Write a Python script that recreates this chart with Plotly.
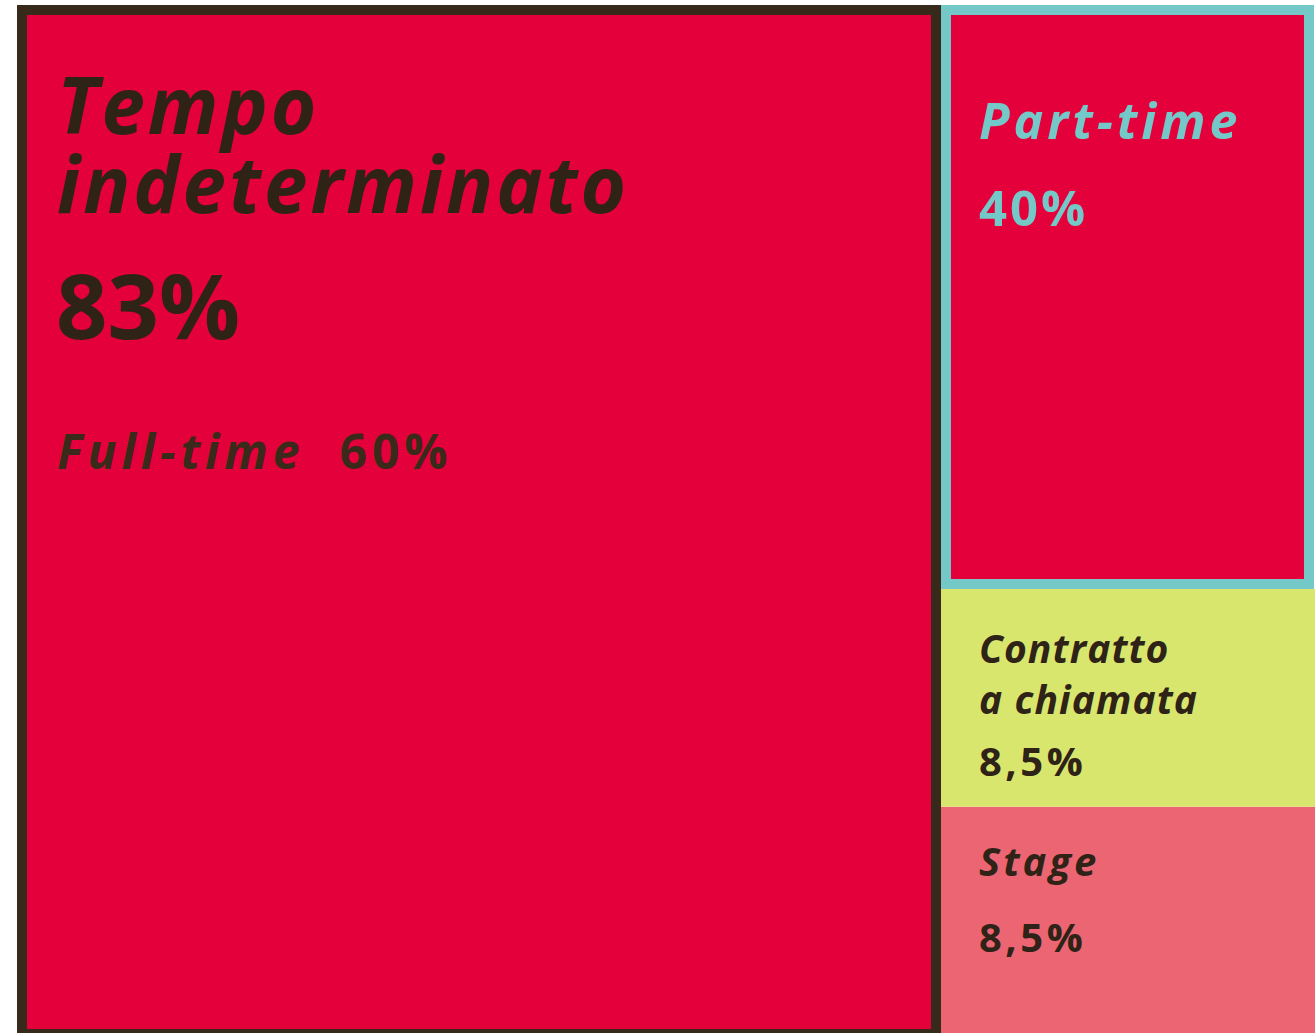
"""
Contratti di lavoro: tipologie e quote, disegnate come blocchi colorati.
"""

import plotly.graph_objects as go

# -- Data --
contracts = ["Tempo indeterminato", "Contratto a chiamata", "Stage"]
contract_share = ["83%", "8,5%", "8,5%"]
open_ended_split = ["Full-time", "Part-time"]
open_ended_share = ["60%", "40%"]

# right column, bottom to top: block heights as drawn (% of the column)
right_blocks = ["Stage", "Contratto a chiamata", "Part-time"]
right_heights = [22.0, 21.2, 56.8]
left_height = [100]

# -- Design --
COLORS = {
    "red": "#E4003A",
    "dark": "#2E2316",
    "border": "#382A1A",
    "teal": "#74C8C8",
    "lime": "#D8E66D",
    "pink": "#EC6573",
    "soft_dark": "#3A2A1A",
}
FONT = "Open Sans, Arial, sans-serif"

W, H = 1315, 1033
MARGIN = {"l": 17, "r": 0, "t": 5, "b": 0}
PLOT_W = W - MARGIN["l"] - MARGIN["r"]
PLOT_H = H - MARGIN["t"] - MARGIN["b"]
PX_X = 100 / PLOT_W  # axis units per pixel
PX_Y = 100 / PLOT_H
SPLIT = 924 * PX_X  # left column width
BORDER = 10  # px, border width drawn inside the block


def spaced(text, px):
    return f"<span style='letter-spacing:{px}px'>{text}</span>"


fig = go.Figure()

# Full-time block (dark frame)
fig.add_trace(
    go.Bar(
        x=[SPLIT / 2],
        y=[left_height[0] - BORDER / 2 * PX_Y + 1 * PX_Y],
        base=[-1 * PX_Y],
        width=[SPLIT - BORDER * PX_X],
        marker={"color": COLORS["red"], "line": {"color": COLORS["border"], "width": BORDER}},
        name=open_ended_split[0],
        hovertemplate=f"{contracts[0]} – {open_ended_split[0]}: {open_ended_share[0]}<extra></extra>",
    )
)

# right column
bases = [0]
for h in right_heights[:-1]:
    bases.append(bases[-1] + h)
right_x = SPLIT + (100 - SPLIT) / 2
right_w = 100 - SPLIT
right_colors = [COLORS["pink"], COLORS["lime"], COLORS["red"]]
right_share = [contract_share[2], contract_share[1], open_ended_share[1]]

for i, name in enumerate(right_blocks):
    framed = name == "Part-time"
    inset_x = BORDER / 2 * PX_X if framed else 0
    inset_y = BORDER / 2 * PX_Y if framed else 0
    fig.add_trace(
        go.Bar(
            x=[right_x - (1 * PX_X if framed else 0) / 2],
            y=[right_heights[i] - 2 * inset_y],
            base=[bases[i] + inset_y],
            width=[right_w - 2 * inset_x - (1 * PX_X if framed else 0)],
            marker={
                "color": right_colors[i],
                "line": {"color": COLORS["teal"], "width": BORDER if framed else 0},
            },
            name=name,
            hovertemplate=f"{name}: {right_share[i]}<extra></extra>",
        )
    )

# -- Labels --
tops = {"Full-time": 100, "Part-time": 100, "Contratto a chiamata": bases[2], "Stage": bases[1]}
lefts = {"Full-time": 0, "Part-time": SPLIT, "Contratto a chiamata": SPLIT, "Stage": SPLIT}

labels = [
    # block, text, size, italic, color, x offset, y offset (px)
    ("Full-time", spaced(contracts[0].split()[0], 3), 78, True, COLORS["dark"], 39, 45),
    ("Full-time", spaced(contracts[0].split()[1], 3), 78, True, COLORS["dark"], 39, 124),
    ("Full-time", contract_share[0], 90, False, COLORS["dark"], 38, 237),
    (
        "Full-time",
        spaced(f"<i>{open_ended_split[0]}</i>&nbsp;&nbsp;{open_ended_share[0]}", 5),
        48, False, COLORS["soft_dark"], 39, 412,
    ),
    ("Part-time", spaced(open_ended_split[1], 4), 50, True, COLORS["teal"], 37, 80),
    ("Part-time", spaced(open_ended_share[1], 3), 49, False, COLORS["teal"], 37, 168),
    ("Contratto a chiamata", spaced("Contratto<br>a chiamata", 1.1), 39, True, COLORS["dark"], 37, 31),
    ("Contratto a chiamata", spaced(contract_share[1], 3.5), 40, False, COLORS["dark"], 37, 143),
    ("Stage", spaced(contracts[2], 3), 40, True, COLORS["dark"], 37, 25),
    ("Stage", spaced(contract_share[2], 3.5), 40, False, COLORS["dark"], 37, 101),
]

for block, text, size, italic, color, dx, dy in labels:
    fig.add_annotation(
        x=lefts[block],
        y=tops[block],
        xref="x",
        yref="y",
        text=text,
        showarrow=False,
        xanchor="left",
        yanchor="top",
        align="left",
        xshift=dx,
        yshift=-dy,
        borderpad=0,
        font={
            "family": FONT,
            "size": size,
            "color": color,
            "weight": 700,
            "style": "italic" if italic else "normal",
        },
    )

fig.update_layout(
    width=W,
    height=H,
    margin=MARGIN,
    barmode="overlay",
    showlegend=False,
    plot_bgcolor="white",
    paper_bgcolor="white",
    font_family=FONT,
    xaxis={"range": [0, 100], "visible": False, "fixedrange": True},
    yaxis={"range": [0, 100], "visible": False, "fixedrange": True},
)

# page without the default body margin, so the figure sits at the window corner
fig.write_html(
    "out.html",
    config={"displayModeBar": False},
    post_script="document.body.style.margin = '0';",
)
